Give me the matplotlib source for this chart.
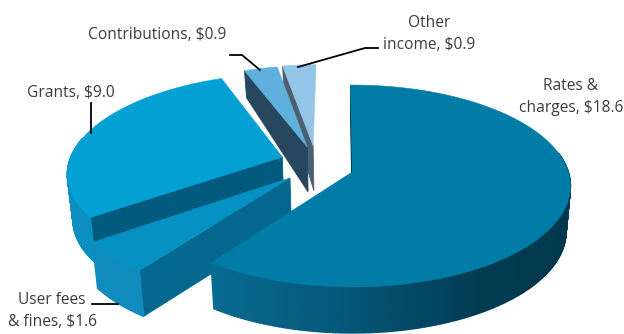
import numpy as np
import matplotlib
matplotlib.use("Agg")
import matplotlib.pyplot as plt
from matplotlib.colors import LinearSegmentedColormap

# revenue by source, clockwise from twelve o'clock
sources = ["Rates &\ncharges", "User fees\n& fines", "Grants", "Contributions", "Other\nincome"]
values = [18.6, 1.6, 9.0, 0.9, 0.9]

# how far each slice is pulled out of the pie, in radii (right, back)
offsets = [(0.006, 0.0), (-0.28, -0.06), (-0.325, 0.155), (-0.21, 0.262), (-0.182, 0.275)]
top_colors = ["#007ca6", "#0791c2", "#03a0d3", "#5fb0dd", "#93c5e8"]
cut_colors = ["#023a50", "#04688f", "#025a7e", "#26475e", "#4c5f70"]
rim_stops = [
    [(0.0, "#086c92"), (0.25, "#05587a"), (0.55, "#023a50"), (0.85, "#02384e"), (1.0, "#084560")],
    [(0.0, "#0f8cbd"), (1.0, "#0f8cbd")],
    [(0.0, "#0b8fc1"), (1.0, "#0b8fc1")],
    [(0.0, "#26475e"), (1.0, "#26475e")],
    [(0.0, "#4c5f70"), (1.0, "#4c5f70")],
]

# camera: pixel position of the pie centre and perspective strength
cx, cy = 351, 172
ax_x, ax_y = 216, 99
persp = 0.1386
start_angle = 90.5


def project(x, y):
    w = 1 + persp * y
    return cx + ax_x * x / w, cy - ax_y * y / w


def project_low(x, y):
    # bottom face of the pie: thinner toward the back
    u, v = project(x, y)
    depth = np.interp(y, [-1.0, 0.3, 1.25], [46, 45, 26])
    return cx + (u - cx) * 0.98, v + depth


fig = plt.figure(figsize=(6.24, 3.34), dpi=100)
ax = fig.add_axes([0, 0, 1, 1])
ax.set_xlim(0, 624)
ax.set_ylim(334, 0)
ax.axis("off")

total = sum(values)
sweeps = [v / total * 360 for v in values]
ends = start_angle - np.cumsum(sweeps)
starts = ends + np.array(sweeps)

# back slices first, the big one last
for i in [4, 3, 2, 1, 0]:
    theta = np.radians(np.linspace(starts[i], ends[i], max(int(sweeps[i] * 2), 8)))
    ox, oy = offsets[i]
    xs = ox + np.cos(theta)
    ys = oy + np.sin(theta)
    ut, vt = project(xs, ys)
    ub, vb = project_low(xs, ys)
    au, av = project(np.array([ox]), np.array([oy]))
    bu, bv = project_low(np.array([ox]), np.array([oy]))

    # cut face on the leading edge; the other one faces away
    ax.fill([au[0], ut[0], ub[0], bu[0]], [av[0], vt[0], vb[0], bv[0]],
            color=cut_colors[i], lw=0.6, zorder=i * -10 + 1)

    # outer rim, shaded along the arc; the back of the rim is never seen
    cmap = LinearSegmentedColormap.from_list("rim", rim_stops[i])
    front = np.clip((np.degrees(theta) - ends[i]) / max(min(starts[i], 0) - ends[i], 1), 0, 1)
    for k in range(len(theta) - 1):
        if np.sin(theta[k]) > 0.2:
            continue
        ax.fill([ut[k], ut[k + 1], ub[k + 1], ub[k]], [vt[k], vt[k + 1], vb[k + 1], vb[k]],
                color=cmap(front[k]), lw=1.0, zorder=i * -10 + 2)

    ax.fill(np.r_[au, ut], np.r_[av, vt], color=top_colors[i], lw=0.4, zorder=i * -10 + 3)

# labels
txt = dict(family="Open Sans", fontsize=11.2, color="#3c3c3c", ha="center", va="center",
           linespacing=1.42, zorder=5)
ax.text(571, 97, f"{sources[0]}, ${values[0]}", **txt)
ax.text(52, 311, f"{sources[1]}, ${values[1]}", **txt)
ax.text(71, 93, f"{sources[2]}, ${values[2]}", **txt)
ax.text(157, 35, f"{sources[3]}, ${values[3]}", **txt)
ax.text(429, 34, f"{sources[4]}, ${values[4]}", **txt)

# leader lines
line = dict(color="black", lw=1.3, zorder=6, solid_joinstyle="miter")
ax.plot([230, 242, 260], [55, 55, 70], **line)
ax.plot([378, 365, 298], [48, 48, 67], **line)
ax.plot([91, 91], [103, 133], **line)
ax.plot([92, 118], [304, 304], **line)

fig.savefig("out.png", dpi=100)
